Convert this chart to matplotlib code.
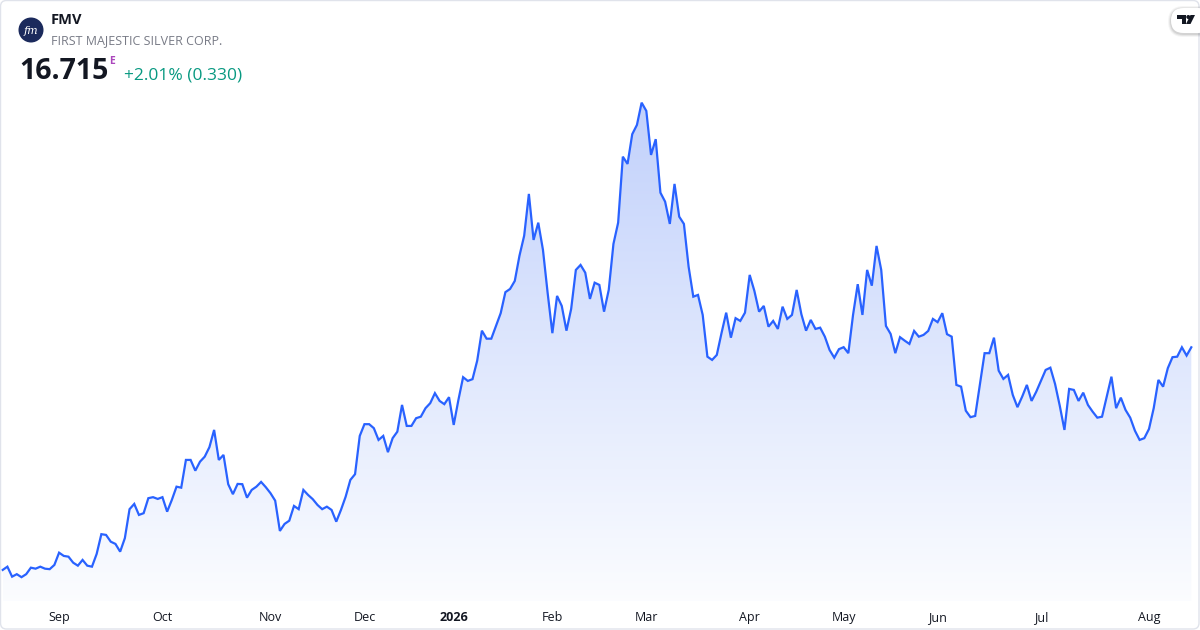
import matplotlib
matplotlib.use("Agg")
import matplotlib.pyplot as plt
import numpy as np
from matplotlib.patches import FancyBboxPatch, Circle, Polygon
from matplotlib.transforms import Affine2D

plt.rcParams['font.family'] = ['Open Sans', 'DejaVu Sans']

# ---------------- data ----------------
ticker = "FMV"
company = "FIRST MAJESTIC SILVER CORP."
last_price = "16.715"
change_text = "+2.01% (0.330)"

prices = [
    7.81, 7.94, 7.54, 7.64, 7.52, 7.64, 7.90, 7.86, 7.94, 7.86,
    7.84, 8.01, 8.50, 8.37, 8.34, 8.10, 7.98, 8.21, 7.98, 7.94,
    8.45, 9.24, 9.21, 8.94, 8.85, 8.54, 9.08, 10.24, 10.45, 10.01,
    10.08, 10.68, 10.72, 10.65, 10.72, 10.14, 10.61, 11.14, 11.10, 12.21,
    12.21, 11.78, 12.14, 12.34, 12.72, 13.41, 12.21, 12.41, 11.24, 10.84,
    11.25, 11.24, 10.70, 11.01, 11.14, 11.33, 11.12, 10.88, 10.58, 9.37,
    9.65, 9.78, 10.37, 10.24, 11.01, 10.81, 10.64, 10.41, 10.24, 10.34,
    10.21, 9.74, 10.21, 10.74, 11.41, 11.64, 13.17, 13.64, 13.64, 13.48,
    13.01, 13.17, 12.52, 13.08, 13.34,
    14.41, 13.57, 13.57, 13.88, 13.94, 14.28, 14.48, 14.88, 14.57, 14.44,
    14.72, 13.61, 14.61, 15.52, 15.37, 15.44, 16.18, 17.38, 17.06, 17.06,
    17.57, 18.08, 18.92, 19.05, 19.37, 20.38, 21.18, 22.85, 21.01, 21.70,
    20.61, 18.88, 17.28, 18.77, 18.37, 17.38, 18.25, 19.81, 20.01, 19.70,
    18.65, 19.30, 19.21, 18.14, 19.01, 20.85, 21.70, 24.34, 24.05, 25.24,
    25.61, 26.50, 26.17, 24.41, 25.04, 22.90, 22.54, 21.65, 23.25, 21.94,
    21.65,
    19.94, 18.74, 18.81, 18.01, 16.34, 16.21, 16.41, 17.28, 18.10, 17.10,
    17.88, 17.77, 18.10, 19.61, 18.97, 18.14, 18.37, 17.54, 17.77, 17.45,
    18.34, 17.85, 18.01, 19.01, 18.04, 17.38, 17.81, 17.45, 17.50, 17.14,
    16.61, 16.30, 16.64, 16.72, 16.48, 18.01, 19.24, 18.01, 19.81, 19.18,
    20.77, 19.81, 17.57, 17.25, 16.48, 17.12, 16.98, 16.85, 17.37, 17.14,
    17.21, 17.37, 17.85, 17.72, 18.08, 17.24, 17.14, 15.21, 15.14, 14.18,
    13.92, 13.97, 15.24, 16.48, 16.48, 17.10, 15.78, 15.45, 15.61, 14.81,
    14.32, 14.74, 15.21, 14.57, 14.94, 15.38, 15.81, 15.90, 15.25, 14.38,
    13.41, 15.05, 15.01, 14.57, 14.90, 14.41, 14.14, 13.90, 13.94, 14.74,
    15.54, 14.28, 14.70, 14.21, 13.90, 13.38, 13.01, 13.08, 13.45, 14.28,
    15.41, 15.14, 15.88, 16.32, 16.34, 16.715, 16.385, 16.715,
]

month_labels = ["Sep", "Oct", "Nov", "Dec", "2026", "Feb", "Mar", "Apr", "May", "Jun", "Jul", "Aug"]
month_starts = [12, 34, 57, 77, 96, 117, 137, 159, 179, 199, 221, 244]

# ---------------- figure ----------------
W, H = 1200, 630
fig = plt.figure(figsize=(W / 100, H / 100), dpi=100)
fig.patch.set_facecolor("white")
# pixel transform with origin at the top-left corner of the image
px = Affine2D().scale(1, -1).translate(0, H)

# outer rounded border
border = FancyBboxPatch((0.5, 0.5), W - 1.5, H - 1.5,
                        boxstyle="round,pad=0,rounding_size=6",
                        transform=px, fill=False,
                        edgecolor="#e0e3eb", linewidth=1.0, zorder=0)
fig.patches.append(border)

# axes: pixel spacing per point ~4.698, first point at px 2.7
x0_px, step = 2.7, 4.698
ax_left_px, ax_right_px = 0, 1200
ax_top_px, ax_bot_px = 90, 601
ax = fig.add_axes([ax_left_px / W, (H - ax_bot_px) / H,
                   (ax_right_px - ax_left_px) / W, (ax_bot_px - ax_top_px) / H])
ax.set_xlim((ax_left_px - x0_px) / step, (ax_right_px - x0_px) / step)
ymin, ymax = 30.607 - 0.04 * ax_bot_px, 30.607 - 0.04 * ax_top_px
ax.set_ylim(ymin, ymax)
ax.axis("off")

x = np.arange(len(prices))
y = np.array(prices)

# gradient fill under the line
verts = [(x[0], ymin)] + list(zip(x, y)) + [(x[-1], ymin)]
poly = Polygon(verts, closed=True, facecolor="none", edgecolor="none")
ax.add_patch(poly)
top_c = np.array([0.76, 0.82, 0.985])
bot_c = np.array([0.985, 0.99, 1.0])
n = 256
t = np.linspace(0, 1, n)[:, None]
grad = (top_c[None, :] * (1 - t) + bot_c[None, :] * t)
grad = grad[:, None, :]
im = ax.imshow(grad, extent=[x[0], x[-1], ymin, y.max()], aspect="auto",
               origin="upper", zorder=1, interpolation="bilinear")
im.set_clip_path(poly)

ax.plot(x, y, color="#2962ff", linewidth=1.6, zorder=3, solid_joinstyle="miter")

# x tick labels
for pos, lab in zip(month_starts, month_labels):
    fx = (x0_px + pos * step) / W
    fig.text(fx, 1 - 617.5 / H, lab, ha="center", va="center", fontsize=9,
             color="#131722", fontweight="bold" if lab == "2026" else "normal")

# ---------------- header ----------------
logo = Circle((31, 30), 12.5, transform=px, facecolor="#1b2a5c", edgecolor="none")
fig.patches.append(logo)
fig.text(31 / W, 1 - 30.5 / H, "fm", ha="center", va="center", fontsize=8,
         color="white", family=["DejaVu Serif"], style="italic")
fig.text(51 / W, 1 - 20.5 / H, ticker, ha="left", va="center", fontsize=10.5,
         fontweight="bold", color="#131722")
fig.text(51 / W, 1 - 40.5 / H, company, ha="left", va="center", fontsize=9,
         color="#787b86")
fig.text(19 / W, 1 - 71.5 / H, last_price, ha="left", va="center", fontsize=20.5,
         fontweight="bold", color="#131722")
fig.text(109 / W, 1 - 61 / H, "E", ha="left", va="center", fontsize=7.5,
         fontweight="bold", color="#ab47bc")
fig.text(124 / W, 1 - 75 / H, change_text, ha="left", va="center", fontsize=12.5,
         color="#089981")

# TradingView-style badge in top right corner (with soft shadow)
for grow, alpha in [(3, 0.04), (2, 0.06), (1, 0.08)]:
    sh = FancyBboxPatch((1171 - grow, 8 - grow + 1), 40 + 2 * grow, 25 + 2 * grow,
                        boxstyle="round,pad=0,rounding_size=%g" % (12.5 + grow),
                        transform=px, facecolor="black", alpha=alpha,
                        edgecolor="none", zorder=4)
    fig.patches.append(sh)
badge = FancyBboxPatch((1171, 8), 40, 25,
                       boxstyle="round,pad=0,rounding_size=12.5",
                       transform=px, facecolor="white", edgecolor="none", zorder=5)
fig.patches.append(badge)

logo_parts = [
    Polygon([(1177, 15), (1186, 15), (1186, 24), (1182, 24), (1182, 19), (1177, 19)], closed=True),
    Circle((1188.3, 17), 2.0),
    Polygon([(1190.5, 15), (1195, 15), (1190.5, 24), (1186, 24)], closed=True),
]
for p in logo_parts:
    p.set_transform(px)
    p.set_facecolor("#131722")
    p.set_edgecolor("none")
    p.set_zorder(6)
    fig.patches.append(p)

fig.savefig("out.png", dpi=100, facecolor="white")
